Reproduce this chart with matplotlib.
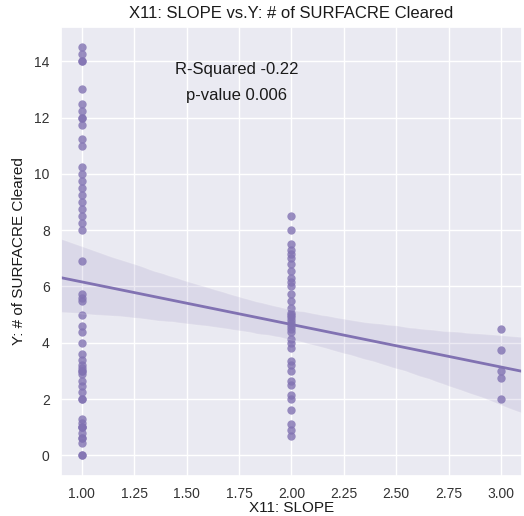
import numpy as np
import matplotlib
matplotlib.use("Agg")
import matplotlib.pyplot as plt
import seaborn as sns

# Slope class of each site and the number of surface acres cleared there
slope_1 = [14.5, 14.25, 14.0, 14.0, 13.0, 12.5, 12.25, 12.0, 12.0, 11.75, 11.25, 11.0,
           10.25, 10.0, 9.75, 9.5, 9.25, 9.0, 8.75, 8.5, 8.25, 8.0,
           6.9, 5.75, 5.6, 5.5, 5.0, 4.6, 4.4, 4.0, 3.6, 3.4, 3.2, 3.1, 3.0, 3.0, 2.9,
           2.65, 2.45, 2.25, 2.0, 2.0, 1.3, 1.15, 1.0, 1.0, 1.0, 0.8, 0.6, 0.6, 0.45,
           0.0, 0.0]
slope_2 = [8.5, 8.0, 7.5, 7.3, 7.15, 7.0, 6.8, 6.55, 6.3, 6.15, 6.0, 5.75, 5.5, 5.25,
           5.05, 5.0, 4.9, 4.7, 4.8, 4.6, 4.5, 4.4, 4.15, 4.0, 3.8, 3.35, 3.2, 3.0, 2.65,
           2.5, 2.15, 2.0, 1.6, 1.1, 0.9, 0.7]
slope_3 = [4.5, 3.75, 3.0, 2.75, 2.0]

x_vals = np.array([1.0] * len(slope_1) + [2.0] * len(slope_2) + [3.0] * len(slope_3))
y_vals = np.array(slope_1 + slope_2 + slope_3)

r_text = "R-Squared -0.22"
p_text = "p-value 0.006"

sns.set_theme(style="darkgrid")
plt.rcParams["font.family"] = ["Liberation Sans", "DejaVu Sans"]

fig = plt.figure(figsize=(5.24, 5.16), dpi=100)
ax = fig.add_axes([0.116, 0.078, 0.880, 0.870])
ax.set_xlim(0.9, 3.1)
ax.set_ylim(-0.725, 15.225)

purple = "#8172B2"
sns.regplot(x=x_vals, y=y_vals, ax=ax, color=purple, seed=3, truncate=False,
            scatter_kws={"s": 36, "alpha": 0.8, "linewidths": 0},
            line_kws={"linewidth": 2})

ax.set_xlim(0.9, 3.1)
ax.set_ylim(-0.725, 15.225)
ax.set_xticks(np.arange(1.0, 3.01, 0.25))
ax.set_xticklabels([f"{t:.2f}" for t in np.arange(1.0, 3.01, 0.25)])
ax.set_yticks(np.arange(0, 15, 2))
ax.tick_params(labelsize=10, colors="#333333", pad=2)

ax.set_title("X11: SLOPE vs.Y: # of SURFACRE Cleared", fontsize=12, color="#1a1a1a", pad=6)
ax.set_xlabel("X11: SLOPE", fontsize=11, color="#1a1a1a", labelpad=0)
ax.set_ylabel("Y: # of SURFACRE Cleared", fontsize=11, color="#1a1a1a", labelpad=6)

ax.text(1.74, 13.7, r_text, ha="center", va="center", fontsize=12, color="#1a1a1a")
ax.text(1.74, 12.8, p_text, ha="center", va="center", fontsize=12, color="#1a1a1a")

fig.savefig("out.png", dpi=100)
